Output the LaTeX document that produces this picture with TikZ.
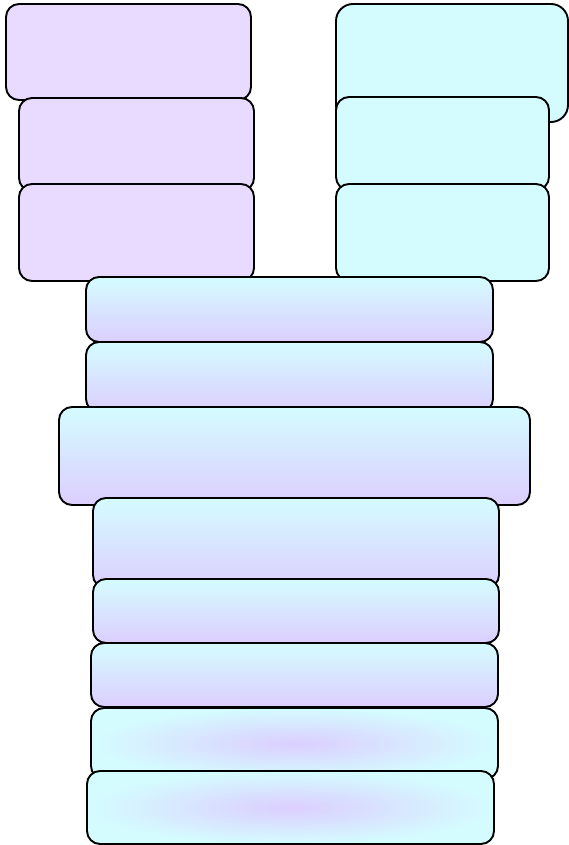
\documentclass[tikz,border=0pt]{standalone}
\usepackage{tikz}
\usetikzlibrary{positioning}
\definecolor{lilac}{RGB}{233,218,255}
\definecolor{aqua}{RGB}{212,252,255}
\definecolor{lilacdeep}{RGB}{220,206,255}
\tikzset{
  slab/.style={draw=black,line width=1.9pt,rounded corners=13pt,inner sep=0pt},
  lcard/.style={slab,fill=lilac},
  rcard/.style={slab,fill=aqua},
  band/.style={slab,top color=aqua,bottom color=lilacdeep},
  glow/.style={slab,inner color=lilacdeep,outer color=aqua},
  wh/.style 2 args={minimum width=#1pt,minimum height=#2pt},
}
\begin{document}
\begin{tikzpicture}[x=1pt,y=-1pt]
\useasboundingbox (0,0) rectangle (569,845);
% left column
\node[lcard,wh={245}{96}] (L1) at (128.5,52) {};
\node[lcard,wh={235}{93}] (L2) at (136.5,144.5) {};
\node[lcard,wh={235}{97}] (L3) at (136.5,232.5) {};
% right column
\node[rcard,wh={232}{118},rounded corners=17pt] (R1) at (452,63) {};
\node[rcard,wh={213}{93}] (R2) at (442.5,143.5) {};
\node[rcard,wh={213}{97}] (R3) at (442.5,232.5) {};
% middle stack
\node[band,wh={407}{65}] (M1) at (289.5,309.5) {};
\node[band,wh={407}{70}] (M2) at (289.5,377) {};
\node[band,wh={471}{98}] (M3) at (294.5,456) {};
\node[band,wh={406}{90}] (M4) at (296,543) {};
\node[band,wh={406}{64}] (M5) at (296,611) {};
\node[band,wh={407}{64}] (M6) at (294.5,675) {};
\node[glow,wh={407}{71}] (M7) at (294.5,743.5) {};
\node[glow,wh={407}{73}] (M8) at (290.5,807.5) {};
\end{tikzpicture}
\end{document}
